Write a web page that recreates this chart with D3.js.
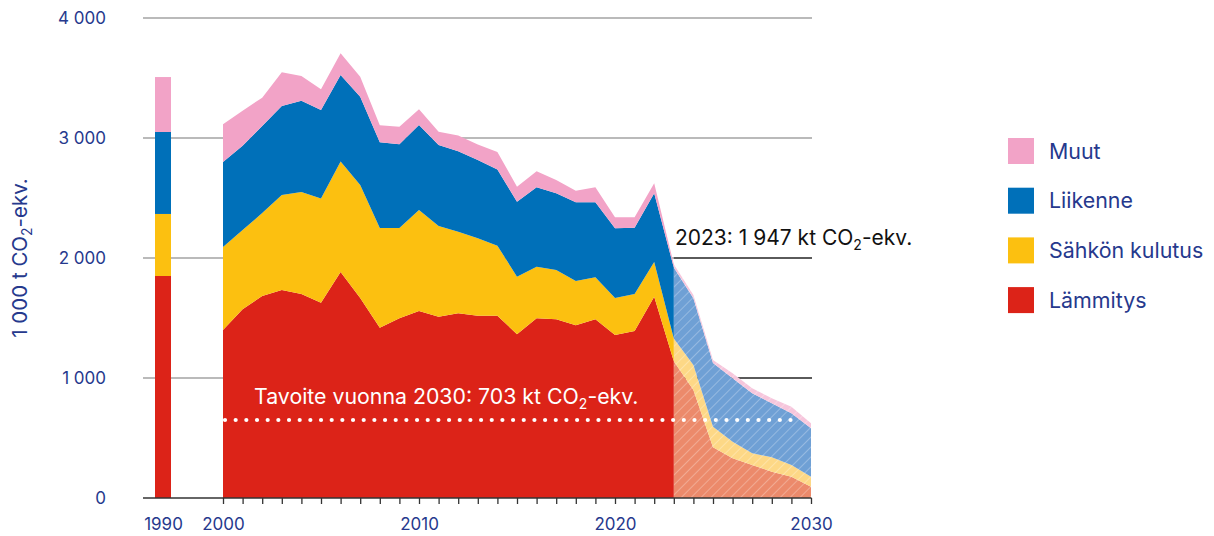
<!DOCTYPE html>
<html>
<head>
<meta charset="utf-8">
<script src="https://cdn.jsdelivr.net/npm/d3@7"></script>
<style>
  body { margin: 0; background: #fff; }
  text { font-family: Inter, "Noto Sans", sans-serif; }
</style>
</head>
<body>
<svg id="chart" width="1214" height="536"></svg>
<script>
// data (1000 t CO2-ekv.)
var years = d3.range(2000, 2031);
var heating     = [1400,1572,1683,1733,1700,1628,1883,1667,1419,1497,1558,1511,1539,1519,1519,1365,1497,1490,1440,1490,1358,1392,1678,1140,900,422,331,275,219,178,94];
var electricity = [692,661,692,792,850,867,922,941,831,753,842,756,680,645,584,479,431,410,368,349,308,308,288,190,208,172,138,97,120,97,84];
var transport   = [708,703,725,742,761,738,720,736,714,697,708,675,671,653,635,625,661,639,656,625,581,553,573,590,556,531,528,500,450,431,403];
var other       = [314,292,236,280,206,173,181,167,142,147,131,111,130,129,146,125,133,111,97,125,92,86,83,27,28,25,42,42,42,55,41];

var baseYear = 1990;
var baseValues = [1850, 517, 683, 458];   // heating, electricity, transport, other

var keys = ["heating", "electricity", "transport", "other"];
var labels = ["Lämmitys", "Sähkön kulutus", "Liikenne", "Muut"];
var colors = ["#dc2318", "#fcc010", "#0070b9", "#f2a3c7"];
var lightColors = ["#ec8a6b", "#fdd886", "#6fa0d5", "#f6c6dc"];

var lastActual = 2023;
var yTicks = [0, 1000, 2000, 3000, 4000];
var xLabelYears = [1990, 2000, 2010, 2020, 2030];
var targetLine = 650;

var textBlue = "#26398d";

var svg = d3.select("#chart");

// x scale with a break between 1990 and 2000
var x = d3.scaleLinear().domain([1990, 2000, 2030]).range([163, 223, 811]);
var y = d3.scaleLinear().domain([0, 4000]).range([498, 18]);

var rows = years.map(function(yr, i) {
  return { year: yr, heating: heating[i], electricity: electricity[i], transport: transport[i], other: other[i] };
});
var series = d3.stack().keys(keys)(rows);

// hatch patterns for the projection part
var defs = svg.append("defs");
lightColors.forEach(function(c, i) {
  var p = defs.append("pattern")
    .attr("id", "hatch" + i)
    .attr("patternUnits", "userSpaceOnUse")
    .attr("width", 7).attr("height", 7)
    .attr("patternTransform", "rotate(45)");
  p.append("rect").attr("width", 7).attr("height", 7).attr("fill", c);
  p.append("line").attr("x1", 0).attr("y1", 0).attr("x2", 0).attr("y2", 7)
    .attr("stroke", "#fff").attr("stroke-opacity", 0.4).attr("stroke-width", 1.4);
});

// gridlines
svg.append("g").selectAll("line")
  .data(yTicks.filter(function(d) { return d > 0; }))
  .enter().append("line")
  .attr("x1", 143).attr("x2", 812)
  .attr("y1", function(d) { return y(d); })
  .attr("y2", function(d) { return y(d); })
  .attr("stroke", "#a3a3a3").attr("stroke-width", 1.5);

// darker reference lines on the right
svg.append("g").selectAll("line")
  .data([1000, 2000])
  .enter().append("line")
  .attr("x1", x(lastActual)).attr("x2", 812)
  .attr("y1", function(d) { return y(d); })
  .attr("y2", function(d) { return y(d); })
  .attr("stroke", "#3a3a3a").attr("stroke-width", 1.5);

var area = d3.area()
  .x(function(d) { return x(d.data.year); })
  .y0(function(d) { return y(d[0]); })
  .y1(function(d) { return y(d[1]); });

// projection (hatched)
svg.append("g").selectAll("path")
  .data(series)
  .enter().append("path")
  .attr("d", function(s) { return area(s.filter(function(d) { return d.data.year >= lastActual; })); })
  .attr("fill", function(s, i) { return "url(#hatch" + i + ")"; });

// actual (solid)
svg.append("g").selectAll("path")
  .data(series)
  .enter().append("path")
  .attr("d", function(s) { return area(s.filter(function(d) { return d.data.year <= lastActual; })); })
  .attr("fill", function(s, i) { return colors[i]; });

// 1990 bar
var cum = 0;
var baseStack = baseValues.map(function(v) { var s = [cum, cum + v]; cum += v; return s; });
svg.append("g").selectAll("rect")
  .data(baseStack)
  .enter().append("rect")
  .attr("x", x(baseYear) - 8)
  .attr("width", 16)
  .attr("y", function(d) { return y(d[1]); })
  .attr("height", function(d) { return y(d[0]) - y(d[1]); })
  .attr("fill", function(d, i) { return colors[i]; });

// target dotted line
svg.append("line")
  .attr("x1", x(2000) + 2).attr("x2", 800)
  .attr("y1", y(targetLine)).attr("y2", y(targetLine))
  .attr("stroke", "#fff").attr("stroke-width", 4.2)
  .attr("stroke-linecap", "round")
  .attr("stroke-dasharray", "0 10.67");

var tav = svg.append("text")
  .attr("x", 254).attr("y", 404)
  .attr("fill", "#fff").attr("font-size", 21.3);
tav.append("tspan").text("Tavoite vuonna 2030: 703 kt CO");
tav.append("tspan").attr("font-size", 14).attr("dy", 5).text("2");
tav.append("tspan").attr("dy", -5).text("-ekv.");

var ann = svg.append("text")
  .attr("x", 675).attr("y", 245)
  .attr("fill", "#111").attr("font-size", 21);
ann.append("tspan").text("2023: 1 947 kt CO");
ann.append("tspan").attr("font-size", 14).attr("dy", 5).text("2");
ann.append("tspan").attr("dy", -5).text("-ekv.");

// x axis
var xAxis = svg.append("g")
  .attr("transform", "translate(0," + y(0) + ")")
  .call(d3.axisBottom(x)
    .tickValues([baseYear].concat(years))
    .tickSize(6)
    .tickFormat(function(d) { return xLabelYears.indexOf(d) >= 0 ? d : ""; }));
xAxis.select(".domain").remove();
xAxis.selectAll(".tick line").attr("stroke", "#333").attr("stroke-width", 1.3);
xAxis.selectAll(".tick").filter(function(d) { return d === baseYear; }).select("line").remove();
xAxis.selectAll(".tick text")
  .attr("y", 20).attr("dy", "0.71em")
  .attr("font-size", 17).attr("fill", textBlue)
  .attr("font-family", "Inter, sans-serif");
xAxis.append("line")
  .attr("x1", 143).attr("x2", 811.5)
  .attr("stroke", "#333").attr("stroke-width", 1.5);

// y tick labels
var fmt = d3.formatLocale({ decimal: ",", thousands: " ", grouping: [3], currency: ["", ""] }).format(",");
svg.append("g").selectAll("text")
  .data(yTicks)
  .enter().append("text")
  .attr("x", 106)
  .attr("y", function(d) { return y(d); })
  .attr("dy", "0.36em")
  .attr("text-anchor", "end")
  .attr("font-size", 17)
  .attr("fill", textBlue)
  .text(function(d) { return fmt(d); });

// y title
var yt = svg.append("text")
  .attr("transform", "translate(27,258) rotate(-90)")
  .attr("text-anchor", "middle")
  .attr("font-size", 20.5)
  .attr("fill", textBlue);
yt.append("tspan").text("1 000 t CO");
yt.append("tspan").attr("font-size", 14).attr("dy", 5).text("2");
yt.append("tspan").attr("dy", -5).text("-ekv.");

// legend
var legendOrder = [3, 2, 1, 0];
var legend = svg.append("g").selectAll("g")
  .data(legendOrder)
  .enter().append("g")
  .attr("transform", function(d, i) { return "translate(1008," + (138 + i * 49.7) + ")"; });
legend.append("rect")
  .attr("width", 26).attr("height", 26)
  .attr("fill", function(d) { return colors[d]; });
legend.append("text")
  .attr("x", 41).attr("y", 13).attr("dy", "0.36em")
  .attr("font-size", 21.4)
  .attr("fill", textBlue)
  .text(function(d) { return labels[d]; });
</script>
</body>
</html>
